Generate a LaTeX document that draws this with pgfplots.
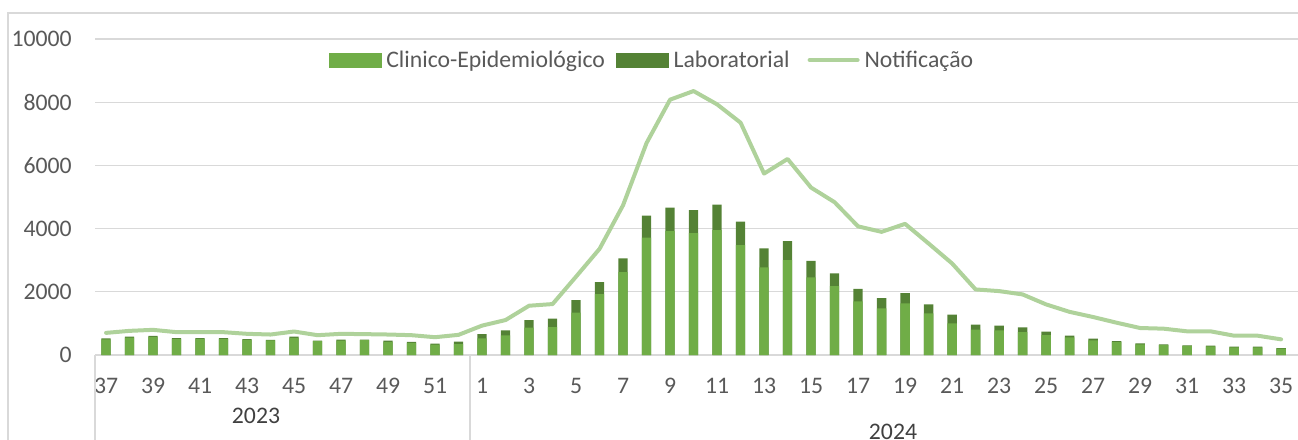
\documentclass[border=0pt]{standalone}
\usepackage{fontspec}
\setmainfont{Carlito}
\usepackage{pgfplots}
\usepackage{pgfplotstable}
\pgfplotsset{compat=1.18}
\definecolor{clinc}{HTML}{70AD47}
\definecolor{labc}{HTML}{548235}
\definecolor{notc}{HTML}{AFD29B}
\definecolor{gridc}{HTML}{D9D9D9}
\definecolor{tickc}{HTML}{595959}
\definecolor{yearc}{HTML}{404040}
\pgfplotstableread{
i clin lab notif
0 495 35 700
1 553 32 764
2 575 32 796
3 505 26 722
4 510 21 722
5 500 31 722
6 480 20 670
7 460 20 648
8 545 40 743
9 440 18 627
10 458 32 670
11 470 20 660
12 417 41 648
13 385 32 627
14 332 31 563
15 341 86 638
16 527 137 930
17 622 158 1106
18 864 242 1559
19 885 263 1612
20 1338 400 2480
21 1928 379 3360
22 2623 432 4740
23 3718 696 6709
24 3918 749 8080
25 3855 727 8353
26 3950 812 7932
27 3476 748 7352
28 2770 601 5741
29 3002 600 6204
30 2454 527 5298
31 2180 400 4835
32 1700 396 4070
33 1475 326 3897
34 1633 326 4150
35 1317 284 3529
36 1000 275 2897
37 801 158 2075
38 780 147 2022
39 727 147 1917
40 632 106 1601
41 560 55 1365
42 464 52 1202
43 411 32 1022
44 340 29 854
45 315 22 833
46 285 21 749
47 275 20 749
48 245 19 611
49 245 19 611
50 205 16 495
}\data
\newcommand{\cf}{\fontsize{17.8}{20}\selectfont}
\begin{document}
\begin{tikzpicture}[x=0.75pt,y=0.75pt]
\useasboundingbox (0,0) rectangle (1298,439);
\begin{axis}[
  at={(71.25pt,63pt)}, anchor=south west,
  scale only axis,
  width=902.25pt, height=237pt,
  xmin=-0.47, xmax=50.72,
  ymin=0, ymax=10000,
  scaled y ticks=false,
  axis line style={draw=none},
  major tick length=0pt,
  ymajorgrids, grid style={gridc, line width=1pt},
  ytick={0,2000,4000,6000,8000,10000},
  yticklabels={0,2000,4000,6000,8000,10000},
  xtick={0,2,...,50},
  xticklabels={37,39,41,43,45,47,49,51,1,3,5,7,9,11,13,15,17,19,21,23,25,27,29,31,33,35},
  ticklabel style={font=\cf, text=tickc, inner sep=0pt},
  yticklabel style={anchor=east, xshift=-17.25pt},
  xticklabel style={anchor=base, yshift=-28.5pt},
  clip=false,
  legend style={at={(0.463,0.9335)}, anchor=center, draw=none, fill=none,
    font=\cf, text=tickc, legend columns=3,
    nodes={inner xsep=1.5pt},
    /tikz/every odd column/.append style={column sep=2.25pt},
    /tikz/every even column/.append style={column sep=6.75pt}},
]
\addlegendimage{legend image code/.code={\fill[clinc] (0pt,-5.25pt) rectangle (39pt,5.25pt);}}
\addlegendentry{Clinico-Epidemiológico}
\addlegendimage{legend image code/.code={\fill[labc] (0pt,-5.25pt) rectangle (39pt,5.25pt);}}
\addlegendentry{Laboratorial}
\addplot[ybar, bar width=7pt, bar shift=0pt, fill=labc, draw=none, forget plot]
  table[x=i, y expr=\thisrow{clin}+\thisrow{lab}] {\data};
\addplot[ybar, bar width=7pt, bar shift=0pt, fill=clinc, draw=none, forget plot]
  table[x=i, y=clin] {\data};
\addplot[notc, line width=3pt, line cap=round, line join=round, mark=none,
  legend image code/.code={\path (0pt,0pt); \draw[notc, line width=3pt, line cap=round] (5.25pt,0pt) -- (41.25pt,0pt);}]
  table[x=i, y=notif] {\data};
\addlegendentry{Notificação}
\end{axis}
\draw[gridc, line width=1.3pt] (8,-6) -- (8,426) -- (1310,426);
\draw[gridc, line width=1pt] (95,84) -- (95,-6);
\draw[gridc, line width=1pt] (470,84) -- (470,-6);
\node[anchor=base, inner sep=0pt, font=\cf, text=yearc] at (256,16) {2023};
\node[anchor=base, inner sep=0pt, font=\cf, text=yearc] at (893,0) {2024};
\end{tikzpicture}
\end{document}
